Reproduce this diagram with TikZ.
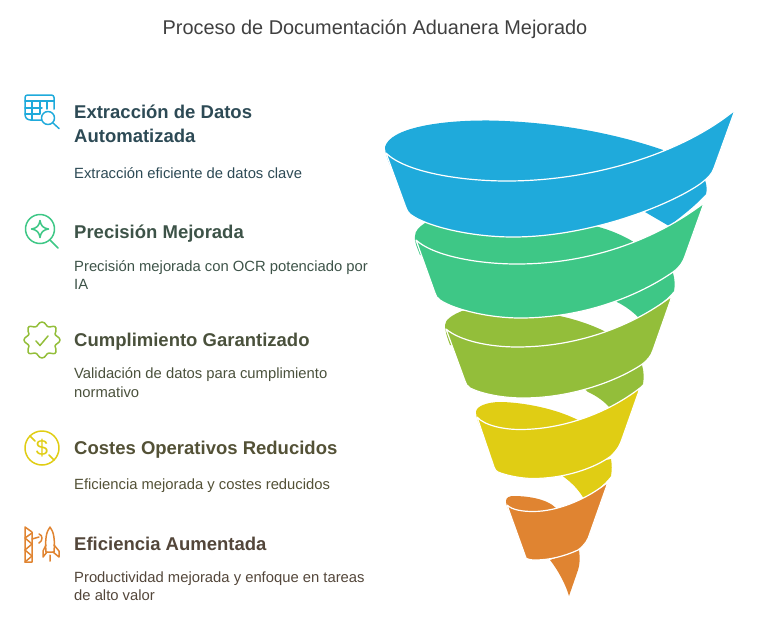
\documentclass[tikz,border=0pt]{standalone}
\usepackage{fontspec}
\setmainfont{Liberation Sans}
\usetikzlibrary{positioning}
\definecolor{cblue}{HTML}{1FAADB}
\definecolor{cgreen}{HTML}{3EC786}
\definecolor{colive}{HTML}{93BE3A}
\definecolor{cyellow}{HTML}{E0CD14}
\definecolor{corange}{HTML}{E08431}
\tikzstyle{band} = [draw=white, line width=1.2pt, line join=round]
\tikzstyle{heading} = [anchor=north west, align=left, inner sep=0pt, font=\fontsize{18.5}{24}\selectfont\bfseries]
\tikzstyle{desc} = [align=left, inner sep=0pt, font=\fontsize{14.8}{18.5}\selectfont]
\tikzstyle{icon} = [line width=1.5pt, line cap=round, line join=round]

\begin{document}
\begin{tikzpicture}[x=1pt, y=-1pt]
    \useasboundingbox (0,0) rectangle (760,627);

    \node [inner sep=0pt, text=black!75, font=\fontsize{19.9}{24}\selectfont] (title) at (375,29.5) {Proceso de Documentación Aduanera Mejorado};

    % texts
    \node [heading, text=cblue!25!black!85] (hExtract) at (74,104.5) {Extracción de Datos\\Automatizada};
    \node [desc, text=cblue!25!black!85, below=24.5pt of hExtract.south west, anchor=north west] (dExtract) {Extracción eficiente de datos clave};
    \node [heading, text=cgreen!20!black!80] (hPrecision) at (74,224.5) {Precisión Mejorada};
    \node [desc, text=cgreen!20!black!80, below=18pt of hPrecision.south west, anchor=north west] (dPrecision) {Precisión mejorada con OCR potenciado por\\IA};
    \node [heading, text=colive!20!black!80] (hCumple) at (74,332.5) {Cumplimiento Garantizado};
    \node [desc, text=colive!20!black!80, below=17.5pt of hCumple.south west, anchor=north west] (dCumple) {Validación de datos para cumplimiento\\normativo};
    \node [heading, text=cyellow!18!black!80] (hCostes) at (74,440.5) {Costes Operativos Reducidos};
    \node [desc, text=cyellow!18!black!80, below=20.5pt of hCostes.south west, anchor=north west] (dCostes) {Eficiencia mejorada y costes reducidos};
    \node [heading, text=corange!18!black!80] (hEfic) at (74,536.5) {Eficiencia Aumentada};
    \node [desc, text=corange!18!black!80, below=21pt of hEfic.south west, anchor=north west] (dEfic) {Productividad mejorada y enfoque en tareas\\de alto valor};

    % table icon
    \draw [icon, cblue, rounded corners=2.5pt] (44,120) -- (28,120) -- (25,117) -- (25,95) -- (54,95) -- (54,109);
    \draw [icon, cblue] (25,101) -- (54,101) (25,108) -- (42,108) (25,114) -- (40,114) (32,101) -- (32,120) (40,101) -- (40,114) (47,101) -- (47,109);
    \draw [icon, cblue, fill=white] (48,118) circle (6.5);
    \draw [icon, cblue] (53,123) -- (59,128.5);

    % lens icon
    \draw [icon, cgreen] (40,229) circle (14.5);
    \draw [icon, cgreen] (50,240) -- (58,248);
    \draw [icon, cgreen] (40,220.5) .. controls (41,226) and (43,228) .. (48.5,229) .. controls (43,230) and (41,232) .. (40,237.5) .. controls (39,232) and (37,230) .. (31.5,229) .. controls (37,228) and (39,226) .. cycle;

    % badge icon
    \draw [icon, colive] (42,322) .. controls (46,322) and (46,327) .. (49,327) .. controls (52,327) and (55,325) .. (56,328) .. controls (57,331) and (55,332) .. (55,334) .. controls (55,336) and (60,337) .. (60,340) .. controls (60,343) and (55,344) .. (55,346) .. controls (55,348) and (57,350) .. (56,352) .. controls (55,355) and (52,353) .. (49,353) .. controls (46,353) and (46,358) .. (42,358) .. controls (38,358) and (38,353) .. (35,353) .. controls (32,353) and (29,355) .. (28,352) .. controls (27,350) and (29,348) .. (29,346) .. controls (29,344) and (24,343) .. (24,340) .. controls (24,337) and (29,336) .. (29,334) .. controls (29,332) and (27,331) .. (28,328) .. controls (29,325) and (32,327) .. (35,327) .. controls (38,327) and (38,322) .. cycle;
    \draw [icon, colive] (36,341) -- (40,345.5) -- (48,336);

    % coin icon
    \draw [icon, cyellow] (42,448) circle (17);
    \draw [icon, cyellow] (30,436) -- (35,441) (49,455) -- (54,460);
    \node [inner sep=0pt, text=cyellow, font=\fontsize{22}{22}\selectfont] (dollar) at (42,448) {\$};

    % tower and rocket icon
    \draw [icon, corange] (25,527) -- (25,562) -- (32,562) -- (32,532) -- cycle;
    \draw [icon, corange] (25,538) -- (32,544) -- (25,550) -- (32,556) -- (25,562) (25,538) -- (32,533);
    \draw [icon, corange] (32,539) -- (39,537) (39,534) .. controls (43,535) and (43,541) .. (39,543);
    \draw [icon, corange] (50,527) .. controls (46,532) and (45,540) .. (46,552) -- (54,552) .. controls (55,540) and (54,532) .. cycle;
    \draw [icon, corange] (46,545) -- (43,551) -- (43,557) -- (47,552) (54,545) -- (59,551) -- (59,557) -- (53,552) (50,555) -- (50,561);

    % backs of the turns
    \fill [cblue] (705,180) .. controls (707,186) and (707,190) .. (706,194) .. controls (695,206) and (682,216) .. (669,226) -- (645,212) -- cycle;
    \fill [cgreen] (673,273) .. controls (675,280) and (675,286) .. (674,291) .. controls (665,302) and (652,310) .. (639,318) .. controls (632,311) and (625,306) .. (617,302) -- (610,290) -- cycle;
    \fill [colive] (642,365) .. controls (644,372) and (644,378) .. (643,384) .. controls (634,394) and (623,402) .. (611,409) .. controls (605,402) and (597,396) .. (588,392) -- (580,385) -- cycle;
    \fill [cyellow] (611,459) .. controls (612,465) and (612,470) .. (611,476) .. controls (604,485) and (595,492) .. (584,499) .. controls (579,490) and (572,483) .. (564,477) -- (555,470) -- cycle;
    \fill [corange] (579,550) .. controls (580,558) and (580,564) .. (578,570) -- (569,596) .. controls (566,585) and (558,570) .. (550,560) -- cycle;

    % top faces
    \fill [cblue] (385,147) .. controls (390,128) and (440,120) .. (490,120.5) .. controls (560,122) and (620,135) .. (663,150) -- (663,170) -- (507,195) -- (390,165) .. controls (387,158) and (385,152) .. cycle;
    \fill [cgreen] (415,236) .. controls (415,231) and (419,227) .. (425,223) -- (500,222) -- (597,226.5) .. controls (610,230) and (622,235) .. (633,241.5) -- (633,255) -- (517,275) -- (420,255) .. controls (417,247) and (414,241) .. cycle;
    \fill [colive] (445,325) .. controls (445,320) and (452,315) .. (462,311) -- (500,310) -- (557,315.5) .. controls (575,319) and (592,325) .. (605,331.5) -- (605,345) -- (517,360) -- (450,345) .. controls (447,337) and (445,331) .. cycle;
    \fill [cyellow] (476,412) .. controls (476,406) and (488,402) .. (500,402) .. controls (515,402) and (550,406) .. (578,420) -- (578,435) -- (520,440) -- (483,432) .. controls (479,425) and (476,418) .. cycle;
    \fill [corange] (506,501) .. controls (506,497) and (510,496) .. (514,496) .. controls (525,496) and (546,498) .. (556,508) -- (556,518) -- (533,520) -- (512,515) .. controls (508,510) and (506,505) .. cycle;

    % bands
    \draw [band, fill=cblue] (386,153) .. controls (405,172) and (460,181) .. (507,181) .. controls (590,181) and (680,155) .. (735,110) -- (714,168) .. controls (712,174) and (708,178) .. (700,184) .. controls (670,205) and (590,237) .. (513,237) .. controls (470,237) and (425,226) .. (410,214) .. controls (407,211) and (406,208) .. (405,205) -- cycle;
    \draw [band, fill=cgreen] (416,240) .. controls (432,255) and (475,264) .. (517,264) .. controls (590,264) and (655,240) .. (704,203) -- (685,256) .. controls (683,262) and (680,267) .. (673,272) .. controls (640,295) and (585,318) .. (520,318) .. controls (490,318) and (455,310) .. (440,300) .. controls (437,298) and (436,296) .. (435,293) -- cycle;
    \draw [band, fill=colive] (446,329) .. controls (460,341) and (490,347) .. (517,347) .. controls (575,347) and (630,328) .. (672,296) -- (653,350) .. controls (651,356) and (648,360) .. (641,365) .. controls (615,382) and (570,398) .. (523,398) .. controls (500,398) and (480,393) .. (470,388) .. controls (467,386) and (466,384) .. (465,381) -- cycle;
    \draw [band, fill=cyellow] (477,417) .. controls (485,426) and (505,429.5) .. (520,429.5) .. controls (560,429.5) and (605,415) .. (640,388) -- (622,439) .. controls (620,445) and (618,449) .. (611,456) .. controls (595,468) and (565,478.5) .. (533,478.5) .. controls (520,478.5) and (505,475) .. (498,472) .. controls (496,471) and (495,470) .. (494,467) -- cycle;
    \draw [band, fill=corange] (507,505) .. controls (512,510) and (523,511.5) .. (533,511.5) .. controls (560,511.5) and (590,497) .. (608,482) -- (590,533) .. controls (588,540) and (585,545) .. (578,550) .. controls (565,556) and (550,560) .. (535,560) .. controls (530,560) and (527,559) .. (526,558) -- cycle;
\end{tikzpicture}
\end{document}
